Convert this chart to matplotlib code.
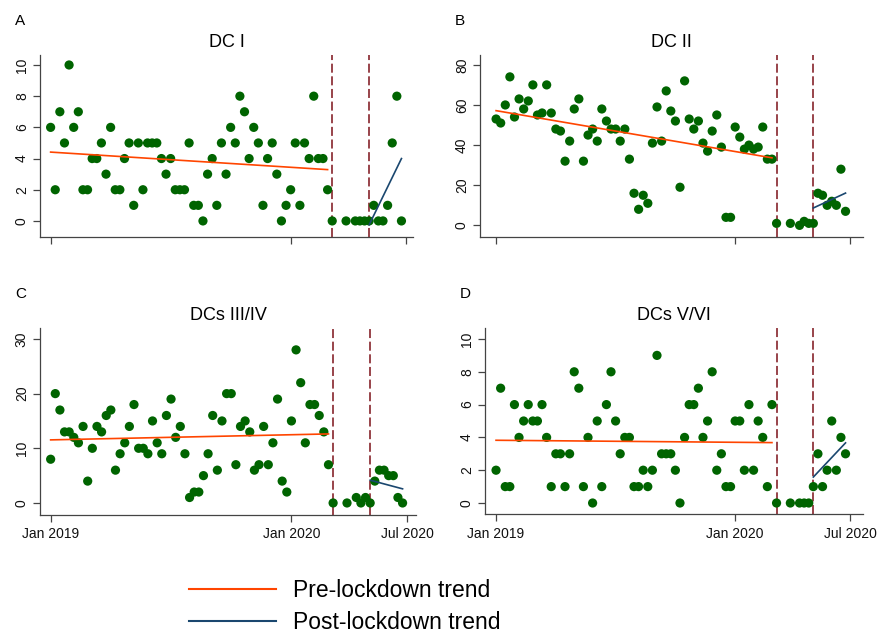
import numpy as np
import matplotlib
matplotlib.use('Agg')
import matplotlib.pyplot as plt
from matplotlib.lines import Line2D

plt.rcParams['font.family'] = ['Liberation Sans', 'DejaVu Sans']

# week index since first week of Jan 2019 (weeks 62, 63, 65 have no data)
weeks = list(range(62)) + [64, 66, 67, 68, 69, 70, 71, 72, 73, 74, 75, 76]
lockdown_week = 61
reopen_week = 69

tick_weeks = [0, 52, 77]
tick_labels = ['Jan 2019', 'Jan 2020', 'Jul 2020']

dc1 = [6, 2, 7, 5, 10, 6, 7, 2, 2, 4, 4, 5, 3, 6, 2, 2, 4, 5, 1, 5,
       2, 5, 5, 5, 4, 3, 4, 2, 2, 2, 5, 1, 1, 0, 3, 4, 1, 5, 3, 6,
       5, 8, 7, 4, 6, 5, 1, 4, 5, 3, 0, 1, 2, 5, 1, 5, 4, 8, 4, 4,
       2, 0,
       0, 0, 0, 0, 0, 1, 0, 0, 1, 5, 8, 0]
dc2 = [53, 51, 60, 74, 54, 63, 58, 62, 70, 55, 56, 70, 56, 48, 47, 32, 42, 58, 63, 32,
       45, 48, 42, 58, 52, 48, 48, 42, 48, 33, 16, 8, 15, 11, 41, 59, 42, 67, 57, 52,
       19, 72, 53, 48, 52, 41, 37, 47, 55, 39, 4, 4, 49, 44, 38, 40, 38, 39, 49, 33,
       33, 1,
       1, 0, 2, 1, 1, 16, 15, 10, 12, 10, 28, 7]
dc34 = [8, 20, 17, 13, 13, 12, 11, 14, 4, 10, 14, 13, 16, 17, 6, 9, 11, 14, 18, 10,
        10, 9, 15, 11, 9, 16, 19, 12, 14, 9, 1, 2, 2, 5, 9, 16, 6, 15, 20, 20,
        7, 14, 15, 13, 6, 7, 14, 7, 11, 19, 4, 2, 15, 28, 22, 11, 18, 18, 16, 13,
        7, 0,
        0, 1, 0, 1, 0, 4, 6, 6, 5, 5, 1, 0]
dc56 = [2, 7, 1, 1, 6, 4, 5, 6, 5, 5, 6, 4, 1, 3, 3, 1, 3, 8, 7, 1,
        4, 0, 5, 1, 6, 8, 5, 3, 4, 4, 1, 1, 2, 1, 2, 9, 3, 3, 3, 2,
        0, 4, 6, 6, 7, 4, 5, 8, 2, 3, 1, 1, 5, 5, 2, 6, 2, 5, 4, 1,
        6, 0,
        0, 0, 0, 0, 1, 3, 1, 2, 5, 2, 4, 3]

GREEN = '#006400'
PRE_COL = '#ff4500'
POST_COL = '#1a476f'
VLINE_COL = '#90353b'
AXCOL = '#444444'

W, H = 890, 634

def px_rect(l, t, r, b):
    return [l / W, 1 - b / H, (r - l) / W, (b - t) / H]

panels = [
    ('A', 'DC I', dc1, px_rect(40, 55, 413, 237), (-2.3, 78.5), (-1.03, 10.64), [0, 2, 4, 6, 8, 10], False),
    ('B', 'DC II', dc2, px_rect(480, 55, 863, 237), (-3.5, 79.8), (-5.8, 84.9), [0, 20, 40, 60, 80], False),
    ('C', 'DCs III/IV', dc34, px_rect(40, 328, 416, 515), (-2.3, 78.9), (-2.2, 32.0), [0, 10, 20, 30], True),
    ('D', 'DCs V/VI', dc56, px_rect(485, 328, 863, 514), (-2.4, 79.8), (-0.67, 10.67), [0, 2, 4, 6, 8, 10], True),
]

def fit_line(ax, x, y, col):
    p = np.polyfit(x, y, 1)
    xs = np.array([x.min(), x.max()])
    ax.plot(xs, np.polyval(p, xs), color=col, lw=1.2, zorder=3)

fig = plt.figure(figsize=(8.9, 6.34), dpi=100)
wk = np.array(weeks)

for letter, title, vals, rect, xlim, ylim, yticks, show_x in panels:
    ax = fig.add_axes(rect)
    y = np.array(vals, dtype=float)
    ax.scatter(wk, y, s=44, color=GREEN, edgecolors='none', zorder=2)

    pre = wk < lockdown_week
    post = wk >= reopen_week
    fit_line(ax, wk[pre], y[pre], PRE_COL)
    fit_line(ax, wk[post], y[post], POST_COL)

    for v in (lockdown_week, reopen_week):
        ax.axvline(v, color=VLINE_COL, lw=1.3, linestyle=(0, (5, 2)), zorder=1)

    ax.set_xlim(*xlim)
    ax.set_ylim(*ylim)
    ax.set_yticks(yticks)
    ax.set_xticks(tick_weeks)
    if show_x:
        ax.set_xticklabels(tick_labels)
    else:
        ax.set_xticklabels([])
    for lab in ax.get_yticklabels():
        lab.set_rotation(90)
        lab.set_va('center')
    ax.tick_params(axis='both', direction='out', length=5, width=0.9,
                   color=AXCOL, labelsize=10, labelcolor='#111111')
    ax.tick_params(axis='y', pad=3)
    ax.tick_params(axis='x', pad=4)
    for s in ('top', 'right'):
        ax.spines[s].set_visible(False)
    for s in ('left', 'bottom'):
        ax.spines[s].set_color(AXCOL)
        ax.spines[s].set_linewidth(0.9)

    ax.set_title(title, fontsize=13, pad=6)
    fig.text(rect[0] - 25 / W, rect[1] + rect[3] + 34 / H, letter,
             fontsize=11, ha='left', va='center')

handles = [Line2D([], [], color=PRE_COL, lw=1.5),
           Line2D([], [], color=POST_COL, lw=1.5)]
fig.legend(handles, ['Pre-lockdown trend', 'Post-lockdown trend'],
           loc='upper left', bbox_to_anchor=(189 / W, 1 - 579 / H),
           frameon=False, fontsize=16.5, handlelength=3.8, handletextpad=0.75,
           labelspacing=0.38, borderpad=0, borderaxespad=0)

fig.savefig('out.png', dpi=100)
